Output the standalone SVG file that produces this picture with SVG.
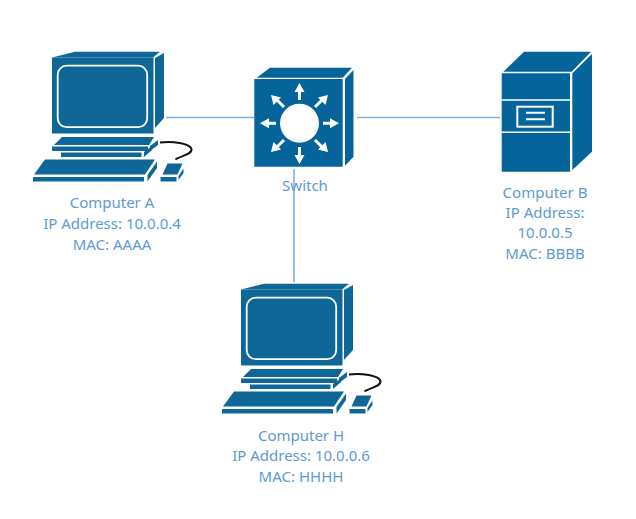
<svg xmlns="http://www.w3.org/2000/svg" xmlns:xlink="http://www.w3.org/1999/xlink" width="636" height="519" viewBox="0 0 636 519">
<style>
.b{fill:#0f6797}
.d{fill:#05659b}
.w{fill:none;stroke:#fff;stroke-width:1.8}
.c{fill:none;stroke:#80b1dd;stroke-width:1.6}
.a{fill:none;stroke:#fff;stroke-width:3}
.h{fill:#fff}
text{font-family:"Noto Sans","Open Sans",sans-serif;font-size:15px;fill:#5b9bd5;text-anchor:middle}
</style>
<defs>
<g id="pc">
<path class="b" d="M52 57.500L75 51.700H160L153 57.500Z"/>
<path class="b" d="M52 57.500H153.500V133.500H52Z"/>
<path class="b" d="M155 58L164 53V118L155 128Z"/>
<rect class="w" x="57.700" y="65.700" width="89.500" height="61.500" rx="9"/>
<path class="b" d="M62 137H154L149 145H54Z"/>
<path class="b" d="M52 146.500H148V151H52Z"/>
<path class="b" d="M150 146L158 140V145L150 151Z"/>
<path class="b" d="M61 152.500H141.500V157H61Z"/>
<path class="b" d="M144 152L152 146V150L144 157Z"/>
<path class="b" d="M45 159.500H155L145 174.500H34Z"/>
<path class="b" d="M33 177H144V181.500H33Z"/>
<path class="b" d="M147.500 175L157 161.500V168L147.500 181.500Z"/>
<path class="b" d="M167.500 163.500H182.500L177.500 174.500H162.500Z"/>
<path class="b" d="M160.500 177H176.500V181.500H160.500Z"/>
<path class="b" d="M178.500 176L183.500 168.500V173L178.500 180Z"/>
<path d="M160 142.500C172 141 190 143 191.500 149C192 155 180 156 175.500 159.500" fill="none" stroke="#111" stroke-width="2"/>
</g>
</defs>
<g id="connectors">
<path class="c" d="M166 117.500H254"/>
<path class="c" d="M357 117.500H500"/>
<path class="c" d="M294 169V282"/>
</g>
<g id="computer-a">
<use xlink:href="#pc" href="#pc"/>
<text x="112" y="208">Computer A</text>
<text x="112" y="229">IP Address: 10.0.0.4</text>
<text x="112" y="250">MAC: AAAA</text>
</g>
<g id="switch">
<path class="d" d="M256.700 77.700L270 67.700H352L342.700 77.700Z"/>
<path class="d" d="M254.300 79H342.700V166.700H254.300Z"/>
<path class="d" d="M345 79L353.500 70V156.700L345 165.700Z"/>
<circle class="h" cx="299.500" cy="123.300" r="19.500"/>
<path class="a" d="M299.500 100V90M299.500 147V157M276 123.300H267M323 123.300H332M284 107L276 99M315 107L323 99M284 140L276 148M315 140L323 148"/>
<path class="h" d="M299.500 83L294.500 92H304.500Z"/>
<path class="h" d="M299.500 164L294.500 155H304.500Z"/>
<path class="h" d="M260 123.300L269 118.300V128.300Z"/>
<path class="h" d="M339 123.300L330 118.300V128.300Z"/>
<path class="h" d="M271 95L281 97.500L273.500 105Z"/>
<path class="h" d="M328 95L318 97.500L325.500 105Z"/>
<path class="h" d="M271 152L281 149.500L273.500 142Z"/>
<path class="h" d="M328 152L318 149.500L325.500 142Z"/>
<text x="305" y="191">Switch</text>
</g>
<g id="computer-b">
<path class="d" d="M503.300 71.700L524 51.700H591L571.700 71.700Z"/>
<path class="d" d="M501.700 73.300H570V171.700H501.700Z"/>
<path class="d" d="M572.300 73.300L592 54V151.700L572.300 170Z"/>
<path d="M501.700 100H570M501.700 132.300H570" fill="none" stroke="#fff" stroke-width="1.600"/>
<rect x="517.300" y="106.700" width="35.400" height="20" fill="none" stroke="#fff" stroke-width="2"/>
<path d="M526 112.700H545M526 119.300H545" fill="none" stroke="#fff" stroke-width="2"/>
<text x="545" y="198">Computer B</text>
<text x="545" y="218">IP Address:</text>
<text x="545" y="238">10.0.0.5</text>
<text x="545" y="259">MAC: BBBB</text>
</g>
<g id="computer-h">
<use xlink:href="#pc" href="#pc" x="189" y="232"/>
<text x="301" y="441">Computer H</text>
<text x="301" y="461">IP Address: 10.0.0.6</text>
<text x="301" y="482">MAC: HHHH</text>
</g>
</svg>
